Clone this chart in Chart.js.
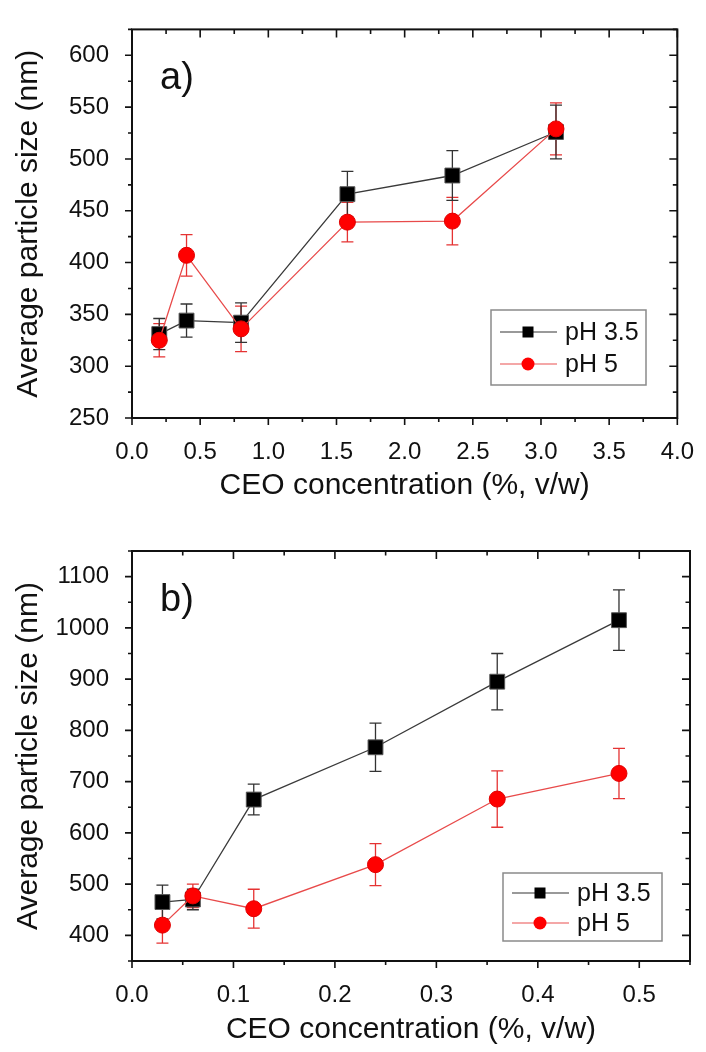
<!DOCTYPE html>
<html>
<head>
<meta charset="utf-8">
<script src="https://cdn.jsdelivr.net/npm/chart.js@4.4.0/dist/chart.umd.min.js"></script>
<style>
  html, body { margin: 0; padding: 0; background: #fff; }
  body { width: 706px; height: 1052px; position: relative; overflow: hidden; }
  canvas { position: absolute; left: 0; }
  #chartA { top: 0; }
  #chartB { top: 520px; }
</style>
</head>
<body>
<canvas id="chartA" width="706" height="520"></canvas>
<canvas id="chartB" width="706" height="532"></canvas>
<script>
// panel a) data
const concA = [0.2, 0.4, 0.8, 1.58, 2.35, 3.11];
const sizeA35 = [331, 344, 342, 466, 484, 526];
const errA35 = [15, 16, 19, 22, 24, 26];
const sizeA5 = [325, 407, 336, 439, 440, 529];
const errA5 = [16, 20, 22, 19, 23, 25];
// panel b) data
const concB = [0.03, 0.06, 0.12, 0.24, 0.36, 0.48];
const sizeB35 = [465, 470, 665, 767, 895, 1015];
const errB35 = [33, 20, 30, 47, 55, 59];
const sizeB5 = [420, 477, 452, 538, 666, 716];
const errB5 = [35, 23, 38, 41, 55, 49];

const seriesLabels = ["pH 3.5", "pH 5"];
const xTitle = "CEO concentration (%, v/w)";
const yTitle = "Average particle size (nm)";

const FONT = "'Liberation Sans', Arial, sans-serif";
Chart.defaults.font.family = FONT;
Chart.defaults.color = "#111";

// ticks only on multiples of the step (not on the axis bounds)
function stepTicks(step) {
  return s => {
    const out = [];
    for (let k = Math.ceil(s.min / step - 1e-9); k <= Math.floor(s.max / step + 1e-9); k++) {
      out.push({ value: +(k * step).toFixed(6) });
    }
    s.ticks = out;
  };
}

// Error bars, drawn under the lines and markers
const errorBars = {
  id: "errorBars",
  beforeDatasetsDraw(chart) {
    const { ctx, scales: { x, y } } = chart;
    chart.data.datasets.forEach(ds => {
      ctx.save();
      ctx.strokeStyle = ds.errColor;
      ctx.lineWidth = 1.3;
      ds.data.forEach((p, i) => {
        const px = x.getPixelForValue(p.x);
        const top = y.getPixelForValue(p.y + ds.err[i]);
        const bot = y.getPixelForValue(p.y - ds.err[i]);
        ctx.beginPath();
        ctx.moveTo(px, top); ctx.lineTo(px, bot);
        ctx.moveTo(px - 6, top); ctx.lineTo(px + 6, top);
        ctx.moveTo(px - 6, bot); ctx.lineTo(px + 6, bot);
        ctx.stroke();
      });
      ctx.restore();
    });
  }
};

// Origin-like box: outward ticks bottom/left, inward ticks top/right, minor ticks
const frameTicks = {
  id: "frameTicks",
  afterDraw(chart, args, opts) {
    const { ctx, chartArea: a, scales: { x, y } } = chart;
    ctx.save();
    ctx.strokeStyle = "#111";
    ctx.lineWidth = 1.6;
    ctx.beginPath();
    const half = opts.xStep / 2;
    for (let k = Math.ceil(x.min / half - 1e-9); k <= Math.floor(x.max / half + 1e-9); k++) {
      const px = x.getPixelForValue(k * half);
      const major = k % 2 === 0;
      ctx.moveTo(px, a.bottom); ctx.lineTo(px, a.bottom + (major ? 7 : 4));
      ctx.moveTo(px, a.top); ctx.lineTo(px, a.top + (major ? 8 : 4.5));
    }
    const hy = opts.yStep / 2;
    for (let k = Math.ceil(y.min / hy - 1e-9); k <= Math.floor(y.max / hy + 1e-9); k++) {
      const py = y.getPixelForValue(k * hy);
      const major = k % 2 === 0;
      ctx.moveTo(a.left, py); ctx.lineTo(a.left - (major ? 7 : 4), py);
      ctx.moveTo(a.right, py); ctx.lineTo(a.right - (major ? 8 : 4.5), py);
    }
    ctx.stroke();
    ctx.lineWidth = 2;
    ctx.strokeRect(a.left, a.top, a.right - a.left, a.bottom - a.top);

    // panel tag
    ctx.fillStyle = "#111";
    ctx.font = "38px " + FONT;
    ctx.textBaseline = "alphabetic";
    ctx.fillText(opts.tag, a.left + 28, a.top + 60);
    ctx.restore();
  }
};

// legend box inside the plot
const boxLegend = {
  id: "boxLegend",
  afterDraw(chart, args, opts) {
    const { ctx } = chart;
    const b = opts.box;
    ctx.save();
    ctx.fillStyle = "#fff";
    ctx.fillRect(b.left, b.top, b.width, b.height);
    ctx.strokeStyle = "#8a8a8a";
    ctx.lineWidth = 1.5;
    ctx.strokeRect(b.left, b.top, b.width, b.height);
    const order = [1, 0];
    order.forEach((dsIndex, row) => {
      const ds = chart.data.datasets[dsIndex];
      const cy = b.top + opts.firstRow + row * opts.rowGap;
      const lx = b.left + 9, mx = lx + 28, rx = lx + 57;
      ctx.strokeStyle = ds.legendLine;
      ctx.lineWidth = 1.5;
      ctx.beginPath(); ctx.moveTo(lx, cy); ctx.lineTo(rx, cy); ctx.stroke();
      ctx.fillStyle = ds.pointBackgroundColor;
      if (ds.pointStyle === "rect") {
        ctx.fillRect(mx - 5.5, cy - 5.5, 11, 11);
      } else {
        ctx.beginPath(); ctx.arc(mx, cy, 6.5, 0, Math.PI * 2); ctx.fill();
      }
      ctx.fillStyle = "#111";
      ctx.font = "25px " + FONT;
      ctx.textBaseline = "middle";
      ctx.fillText(ds.label, rx + 8, cy + 1);
    });
    ctx.restore();
  }
};

function buildChart(id, cfg) {
  const mk = (xs, ys) => xs.map((v, i) => ({ x: v, y: ys[i] }));
  return new Chart(document.getElementById(id), {
    type: "scatter",
    data: {
      datasets: [
        {
          label: seriesLabels[1],
          data: mk(cfg.x, cfg.y5),
          err: cfg.e5,
          errColor: "#e53333",
          showLine: true,
          borderColor: "#e84a4a",
          legendLine: "#f08a8a",
          borderWidth: 1.3,
          pointStyle: "circle",
          pointRadius: 8,
          pointBackgroundColor: "#ff0000",
          pointBorderColor: "#e00000",
          pointBorderWidth: 1,
          order: 0
        },
        {
          label: seriesLabels[0],
          data: mk(cfg.x, cfg.y35),
          err: cfg.e35,
          errColor: "#333",
          showLine: true,
          borderColor: "#3a3a3a",
          legendLine: "#777",
          borderWidth: 1.3,
          pointStyle: "rect",
          pointRadius: 10.5,
          pointBackgroundColor: "#000",
          pointBorderColor: "#555",
          pointBorderWidth: 1,
          order: 1
        }
      ]
    },
    options: {
      responsive: false,
      animation: false,
      layout: { padding: { top: cfg.padTop, right: cfg.padRight, left: 0, bottom: 0 } },
      plugins: {
        legend: { display: false },
        tooltip: { enabled: false },
        frameTicks: { xStep: cfg.xStep, yStep: cfg.yStep, tag: cfg.tag },
        boxLegend: cfg.legend
      },
      scales: {
        x: {
          type: "linear",
          min: cfg.xMin, max: cfg.xMax,
          grid: { display: false },
          border: { display: false },
          afterBuildTicks: stepTicks(cfg.xStep),
          ticks: {
            padding: 12, maxRotation: 0, autoSkip: false,
            font: { size: 24 }, color: "#111",
            callback: v => v.toFixed(1)
          },
          title: { display: true, text: xTitle, color: "#111", font: { size: 30 }, padding: { top: 0, bottom: cfg.xTitlePad } },
          afterFit: s => { s.height = cfg.xAxisH; }
        },
        y: {
          type: "linear",
          min: cfg.yMin, max: cfg.yMax,
          grid: { display: false },
          border: { display: false },
          afterBuildTicks: stepTicks(cfg.yStep),
          ticks: {
            padding: 15, autoSkip: false,
            font: { size: 24 }, color: "#111",
            callback: v => String(v)
          },
          title: { display: true, text: yTitle, color: "#111", font: { size: 30 }, padding: { top: 11, bottom: 0 } },
          afterFit: s => { s.width = 132; }
        }
      }
    },
    plugins: [errorBars, frameTicks, boxLegend]
  });
}

buildChart("chartA", {
  x: concA, y35: sizeA35, e35: errA35, y5: sizeA5, e5: errA5,
  xMin: 0, xMax: 4, xStep: 0.5, yMin: 250, yMax: 625, yStep: 50,
  padTop: 10, padRight: 21, xAxisH: 102, xTitlePad: 16, tag: "a)",
  legend: { box: { left: 491, top: 310, width: 155, height: 75 }, firstRow: 22, rowGap: 32 }
});

buildChart("chartB", {
  x: concB, y35: sizeB35, e35: errB35, y5: sizeB5, e5: errB5,
  xMin: 0, xMax: 0.55, xStep: 0.1, yMin: 350, yMax: 1150, yStep: 100,
  padTop: 31, padRight: 16, xAxisH: 91, xTitlePad: 4, tag: "b)",
  legend: { box: { left: 503, top: 353, width: 159, height: 68 }, firstRow: 20, rowGap: 30 }
});
</script>
</body>
</html>
